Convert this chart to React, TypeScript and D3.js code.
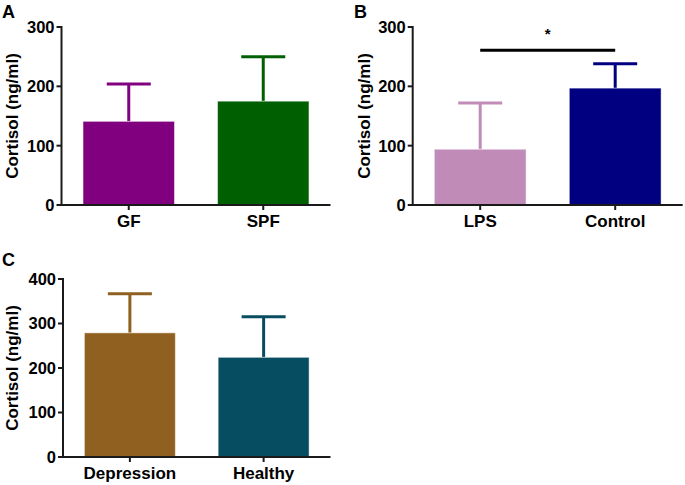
import React from "react";
import * as d3 from "d3";

// Panel A
const catsA = ["GF", "SPF"];
const meanA = [141, 175];
const errA = [204, 250];
const colorsA = ["#800080", "#005f00"];
const ticksA = [0, 100, 200, 300];

// Panel B
const catsB = ["LPS", "Control"];
const meanB = [94, 197];
const errB = [172, 238];
const colorsB = ["#c18bb8", "#000080"];
const ticksB = [0, 100, 200, 300];
const sigB = { level: 261, label: "*" };

// Panel C
const catsC = ["Depression", "Healthy"];
const meanC = [279, 224];
const errC = [367, 315];
const colorsC = ["#8f6020", "#074d61"];
const ticksC = [0, 100, 200, 300, 400];

const FONT = "'Liberation Sans', Arial, Helvetica, sans-serif";
const AXIS = "#1a1a1a";

type PanelProps = {
  letter: string;
  letterX: number;
  letterY: number;
  titleX: number;
  x0: number;
  x1: number;
  yTop: number;
  yBottom: number;
  cats: string[];
  means: number[];
  errs: number[];
  colors: string[];
  ticks: number[];
  sig?: { level: number; label: string };
};

function Panel(p: PanelProps) {
  const x = d3
    .scaleBand<string>()
    .domain(p.cats)
    .range([p.x0, p.x1])
    .paddingInner(0.32)
    .paddingOuter(0.16);
  const yMax = p.ticks[p.ticks.length - 1];
  const y = d3.scaleLinear().domain([0, yMax]).range([p.yBottom, p.yTop]);
  const bw = x.bandwidth();
  const capHalf = 22;
  return (
    <g>
      <text
        x={p.letterX}
        y={p.letterY}
        fontFamily={FONT}
        fontWeight="bold"
        fontSize={18}
        fill="#000"
      >
        {p.letter}
      </text>
      <text
        transform={`translate(${p.titleX},${(p.yTop + p.yBottom) / 2}) rotate(-90)`}
        textAnchor="middle"
        fontFamily={FONT}
        fontWeight="bold"
        fontSize={17}
        fill="#000"
      >
        Cortisol (ng/ml)
      </text>
      {p.cats.map((c, i) => {
        const cx = (x(c) as number) + bw / 2;
        return (
          <g key={c}>
            <line
              x1={cx}
              x2={cx}
              y1={y(p.means[i])}
              y2={y(p.errs[i])}
              stroke={p.colors[i]}
              strokeWidth={3}
            />
            <line
              x1={cx - capHalf}
              x2={cx + capHalf}
              y1={y(p.errs[i])}
              y2={y(p.errs[i])}
              stroke={p.colors[i]}
              strokeWidth={3}
            />
            <rect
              x={x(c) as number}
              y={y(p.means[i])}
              width={bw}
              height={y(0) - y(p.means[i])}
              fill={p.colors[i]}
              stroke="#ffffff"
              strokeOpacity={0.5}
              strokeWidth={1}
            />
            <line
              x1={cx}
              x2={cx}
              y1={p.yBottom}
              y2={p.yBottom + 5}
              stroke={AXIS}
              strokeWidth={2}
            />
            <text
              x={cx}
              y={p.yBottom + 22}
              textAnchor="middle"
              fontFamily={FONT}
              fontWeight="bold"
              fontSize={17}
              fill="#000"
            >
              {c}
            </text>
          </g>
        );
      })}
      {p.ticks.map((t) => (
        <g key={t}>
          <line
            x1={p.x0 - 5}
            x2={p.x0}
            y1={y(t)}
            y2={y(t)}
            stroke={AXIS}
            strokeWidth={2}
          />
          <text
            x={p.x0 - 7}
            y={y(t)}
            dy="0.36em"
            textAnchor="end"
            fontFamily={FONT}
            fontWeight="bold"
            fontSize={16.5}
            fill="#000"
          >
            {t}
          </text>
        </g>
      ))}
      <line
        x1={p.x0}
        x2={p.x0}
        y1={p.yTop - 1}
        y2={p.yBottom + 1}
        stroke={AXIS}
        strokeWidth={2}
      />
      <line
        x1={p.x0 - 1}
        x2={p.x1}
        y1={p.yBottom}
        y2={p.yBottom}
        stroke={AXIS}
        strokeWidth={2}
      />
      {p.sig && (
        <g>
          <line
            x1={(x(p.cats[0]) as number) + bw / 2}
            x2={(x(p.cats[1]) as number) + bw / 2}
            y1={y(p.sig.level)}
            y2={y(p.sig.level)}
            stroke="#000"
            strokeWidth={3}
          />
          <text
            x={((x(p.cats[0]) as number) + (x(p.cats[1]) as number)) / 2 + bw / 2}
            y={y(p.sig.level) - 11}
            textAnchor="middle"
            fontFamily={FONT}
            fontWeight="bold"
            fontSize={15}
            fill="#000"
          >
            {p.sig.label}
          </text>
        </g>
      )}
    </g>
  );
}

export default function App() {
  return (
    <svg
      width={685}
      height={485}
      style={{ position: "absolute", left: 0, top: 0, background: "#fff" }}
    >
      <Panel
        letter="A"
        letterX={2}
        letterY={18}
        titleX={18}
        x0={61.5}
        x1={330.5}
        yTop={27}
        yBottom={205}
        cats={catsA}
        means={meanA}
        errs={errA}
        colors={colorsA}
        ticks={ticksA}
      />
      <Panel
        letter="B"
        letterX={354}
        letterY={18}
        titleX={370}
        x0={412.7}
        x1={682.7}
        yTop={27}
        yBottom={205}
        cats={catsB}
        means={meanB}
        errs={errB}
        colors={colorsB}
        ticks={ticksB}
        sig={sigB}
      />
      <Panel
        letter="C"
        letterX={2}
        letterY={266}
        titleX={18}
        x0={63}
        x1={330.5}
        yTop={279}
        yBottom={457}
        cats={catsC}
        means={meanC}
        errs={errC}
        colors={colorsC}
        ticks={ticksC}
      />
    </svg>
  );
}
